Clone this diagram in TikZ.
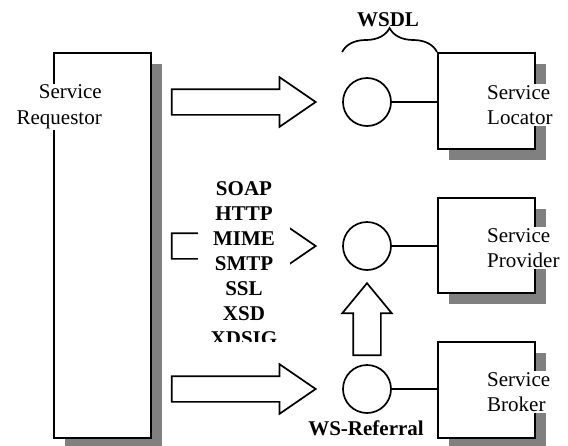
\documentclass[tikz,border=0pt]{standalone}
\usepackage{fontspec}
\setmainfont{Liberation Serif}
\usetikzlibrary{shapes.arrows,shadows,decorations.pathreplacing}

\newcommand{\svcfont}{\fontsize{21}{25.5}\selectfont}
\newcommand{\tagfont}{\fontsize{21}{25}\selectfont\bfseries}

\tikzset{
    svcbox/.style={draw, line width=2pt, fill=white, inner sep=0pt, minimum width=97pt,
        drop shadow={shadow xshift=11pt, shadow yshift=-11pt, fill=gray, opacity=1}},
    svclabel/.style={fill=white, inner sep=1pt, font=\svcfont},
    port/.style={circle, draw, line width=1.7pt, minimum size=48pt, inner sep=0pt},
    fatarrow/.style={single arrow, draw, line width=1.7pt, inner sep=12pt, minimum width=48pt,
        minimum height=144pt, single arrow head extend=12pt, single arrow tip angle=69,
        single arrow head indent=0pt},
    tagtext/.style={font=\tagfont, inner sep=1pt}
}

\begin{document}
\begin{tikzpicture}[x=1pt, y=-1pt]
    \useasboundingbox (0,0) rectangle (568,445);

    \node[svcbox, minimum height=385pt] (requestor) at (102.5, 245.5) {};
    \node[svcbox, minimum height=96pt] (locator) at (486.5, 101) {};
    \node[svcbox, minimum height=95pt] (provider) at (486.5, 245.5) {};
    \node[svcbox, minimum height=96pt] (broker) at (486.5, 390) {};

    \node[svclabel, align=right, anchor=east] (reqlabel) at (103, 107) {Service\\Requestor};
    \node[svclabel, align=left, anchor=west] (loclabel) at (486, 105) {Service\\Locator};
    \node[svclabel, align=left, anchor=west] (provlabel) at (486, 248) {Service\\Provider};
    \node[svclabel, align=left, anchor=west] (broklabel) at (486, 392) {Service\\Broker};

    \node[port] (locport) at (367, 102) {};
    \node[port] (provport) at (367, 246) {};
    \node[port] (brokport) at (367, 389) {};
    \draw[line width=1.7pt] (locport.east) -- (locport -| locator.west);
    \draw[line width=1.7pt] (provport.east) -- (provport -| provider.west);
    \draw[line width=1.7pt] (brokport.east) -- (brokport -| broker.west);

    \node[fatarrow, anchor=tip] (toloc) at ([xshift=-25pt]locport.west) {};
    \node[fatarrow, anchor=tip] (toprov) at ([xshift=-25pt]provport.west) {};
    \node[fatarrow, anchor=tip] (tobrok) at ([xshift=-25pt]brokport.west) {};
    \node[fatarrow, inner sep=13pt, minimum height=72pt, single arrow head extend=11pt,
        single arrow tip angle=79, rotate=90, anchor=tip] (referral) at ([yshift=-11pt]provport.south) {};

    % protocol stack, cut off at the bottom
    \begin{scope}
        \clip (198, 170) rectangle (290, 341);
        \node[tagtext, fill=white, minimum width=92pt, minimum height=180pt, align=center]
            (protocols) at (244, 264) {SOAP\\HTTP\\MIME\\SMTP\\SSL\\XSD\\XDSIG};
    \end{scope}

    \draw[decorate, decoration={brace, amplitude=24pt}, line width=1.7pt]
        (locport.west |- locator.north) -- (locator.north west);
    \node[tagtext] (wsdl) at (388, 20) {WSDL};
    \node[tagtext] (wsref) at (366, 428) {WS-Referral};
\end{tikzpicture}
\end{document}
